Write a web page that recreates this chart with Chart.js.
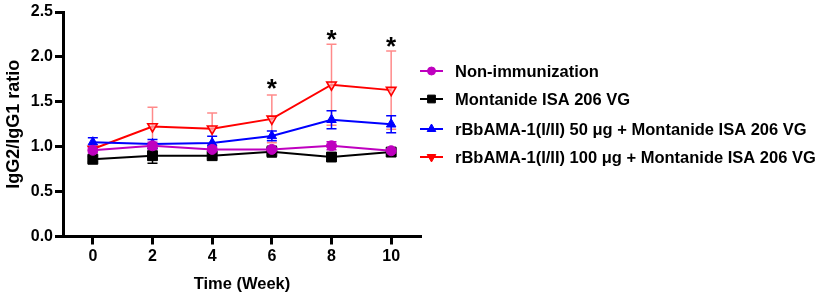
<!DOCTYPE html>
<html>
<head>
<meta charset="utf-8">
<script src="https://cdn.jsdelivr.net/npm/chart.js@4.4.1/dist/chart.umd.min.js"></script>
<style>
  html, body { margin: 0; padding: 0; background: #fff; }
  #wrap { position: relative; width: 829px; height: 301px; }
</style>
</head>
<body>
<div id="wrap"><canvas id="c" width="829" height="301"></canvas></div>
<script>
// ---- data ----
const weeks = [0, 2, 4, 6, 8, 10];
const xTicks = [0, 2, 4, 6, 8, 10];
const yTicks = [0, 0.5, 1.0, 1.5, 2.0, 2.5];

const seriesNames = [
  'Non-immunization',
  'Montanide ISA 206 VG',
  'rBbAMA-1(I/II) 50 \u03bcg + Montanide ISA 206 VG',
  'rBbAMA-1(I/II) 100 \u03bcg + Montanide ISA 206 VG'
];
const nonImm       = [0.96, 1.01, 0.97, 0.97, 1.01, 0.955];
const nonImmErr    = [0.03, 0.04, 0.03, 0.03, 0.045, 0.02];
const montanide    = [0.86, 0.90, 0.90, 0.945, 0.885, 0.94];
const montanideErr = [0.03, 0.085, 0.03, 0.06, 0.03, 0.03];
const bb50         = [1.05, 1.03, 1.04, 1.12, 1.30, 1.25];
const bb50Err      = [0.05, 0.05, 0.075, 0.055, 0.10, 0.095];
const bb100        = [0.975, 1.225, 1.20, 1.31, 1.69, 1.63];
const bb100Err     = [0.0, 0.215, 0.175, 0.265, 0.45, 0.435];

const sigWeeks = [6, 8, 10];
const sigY     = [1.72, 2.27, 2.19];

// ---- styles ----
const FONT = "'Liberation Sans', Arial, sans-serif";
const colors = ['#bf00bf', '#000000', '#0000ff', '#ff0000'];
const errColors = ['#bf00bf', '#000000', '#0000ff', 'rgba(255,60,60,0.6)'];
const fills = ['#bf00bf', '#000000', '#0000ff', 'rgba(255,190,190,0.7)'];
const styles = ['circle', 'rect', 'triangle', 'triangle'];
const rotations = [0, 0, 0, 180];
const radii = [5, 7, 5.5, 5.5];
const values = [nonImm, montanide, bb50, bb100];
const errs = [nonImmErr, montanideErr, bb50Err, bb100Err];

const datasets = values.map((vals, i) => ({
  label: seriesNames[i],
  data: weeks.map((w, j) => ({ x: w, y: vals[j] })),
  borderColor: colors[i],
  backgroundColor: fills[i],
  borderWidth: 2,
  pointStyle: styles[i],
  pointRotation: rotations[i],
  pointRadius: radii[i],
  pointBorderColor: colors[i],
  pointBackgroundColor: fills[i],
  pointBorderWidth: i === 3 ? 1.6 : 1,
  tension: 0,
  fill: false
}));

function drawMarker(ctx, style, x, y, r, rot, fill, stroke, lw) {
  ctx.save();
  ctx.fillStyle = fill; ctx.strokeStyle = stroke; ctx.lineWidth = lw;
  ctx.beginPath();
  if (style === 'circle') {
    ctx.arc(x, y, r, 0, Math.PI * 2);
  } else if (style === 'rect') {
    const s = Math.SQRT1_2 * r;
    ctx.rect(x - s, y - s, 2 * s, 2 * s);
  } else {
    const a0 = (rot * Math.PI / 180) - Math.PI / 2;
    for (let k = 0; k < 3; k++) {
      const a = a0 + k * 2 * Math.PI / 3;
      const px = x + r * Math.cos(a), py = y + r * Math.sin(a);
      if (k === 0) ctx.moveTo(px, py); else ctx.lineTo(px, py);
    }
    ctx.closePath();
  }
  ctx.fill(); ctx.stroke();
  ctx.restore();
}

const errorBars = {
  id: 'errorBars',
  beforeDatasetsDraw(chart) {
    const { ctx, scales: { x, y } } = chart;
    ctx.save();
    for (let i = values.length - 1; i >= 0; i--) {
      ctx.strokeStyle = errColors[i];
      ctx.lineWidth = 1.5;
      weeks.forEach((w, j) => {
        const e = errs[i][j];
        if (!e) return;
        const px = x.getPixelForValue(w);
        const top = y.getPixelForValue(values[i][j] + e);
        const bot = y.getPixelForValue(values[i][j] - e);
        ctx.beginPath();
        ctx.moveTo(px, top); ctx.lineTo(px, bot);
        ctx.moveTo(px - 5, top); ctx.lineTo(px + 5, top);
        ctx.moveTo(px - 5, bot); ctx.lineTo(px + 5, bot);
        ctx.stroke();
      });
    }
    ctx.restore();
  },
  afterDatasetsDraw(chart) {
    const { ctx, scales: { x, y } } = chart;
    ctx.save();
    ctx.fillStyle = '#000';
    ctx.font = 'bold 26px ' + FONT;
    ctx.textAlign = 'center';
    ctx.textBaseline = 'alphabetic';
    sigWeeks.forEach((w, k) => {
      ctx.fillText('*', x.getPixelForValue(w), y.getPixelForValue(sigY[k]) + 15);
    });
    ctx.restore();
  }
};

const customLegend = {
  id: 'customLegend',
  afterDraw(chart) {
    const ctx = chart.ctx;
    const x0 = 420, x1 = 443, tx = 455;
    const ys = [71, 99, 129, 157];
    const lr = [4, 5.5, 5, 5];
    ctx.save();
    ctx.font = 'bold 16.5px ' + FONT;
    ctx.textBaseline = 'middle';
    ctx.textAlign = 'left';
    seriesNames.forEach((name, i) => {
      const yy = ys[i];
      ctx.strokeStyle = colors[i];
      ctx.lineWidth = 2;
      ctx.beginPath(); ctx.moveTo(x0, yy); ctx.lineTo(x1, yy); ctx.stroke();
      drawMarker(ctx, styles[i], (x0 + x1) / 2, yy, lr[i], rotations[i],
                 i === 3 ? colors[i] : fills[i], colors[i], 1);
      ctx.fillStyle = '#000';
      ctx.fillText(name, tx, yy + 1);
    });
    ctx.restore();
  }
};

new Chart(document.getElementById('c'), {
  type: 'line',
  data: { datasets },
  plugins: [errorBars, customLegend],
  options: {
    responsive: false,
    animation: false,
    events: [],
    layout: { padding: { left: 0, top: 12, right: 408, bottom: 0 } },
    plugins: { legend: { display: false }, tooltip: { enabled: false } },
    scales: {
      x: {
        type: 'linear',
        min: -1, max: 11,
        afterBuildTicks(s) { s.ticks = xTicks.map(v => ({ value: v })); },
        afterFit(s) { s.height = 64.5; },
        ticks: {
          color: '#000',
          font: { family: FONT, weight: 'bold', size: 16 },
          padding: 2,
          maxRotation: 0,
          callback: v => String(v)
        },
        grid: { display: true, drawOnChartArea: false, drawTicks: true, tickLength: 8, tickWidth: 3, tickColor: '#000' },
        border: { display: true, width: 3, color: '#000' },
        title: {
          display: true, text: 'Time (Week)', color: '#000',
          font: { family: FONT, weight: 'bold', size: 16.5 },
          padding: { top: 4, bottom: 7 }
        }
      },
      y: {
        min: 0, max: 2.5,
        afterBuildTicks(s) { s.ticks = yTicks.map(v => ({ value: v })); },
        afterFit(s) { s.width = 63; },
        ticks: {
          color: '#000',
          font: { family: FONT, weight: 'bold', size: 16 },
          padding: 2,
          callback: v => Number(v).toFixed(1)
        },
        grid: { display: true, drawOnChartArea: false, drawTicks: true, tickLength: 8, tickWidth: 3, tickColor: '#000' },
        border: { display: true, width: 3, color: '#000' },
        title: {
          display: true, text: 'IgG2/IgG1 ratio', color: '#000',
          font: { family: FONT, weight: 'bold', size: 18 },
          padding: { top: 3, bottom: 4 }
        }
      }
    }
  }
});
</script>
</body>
</html>
